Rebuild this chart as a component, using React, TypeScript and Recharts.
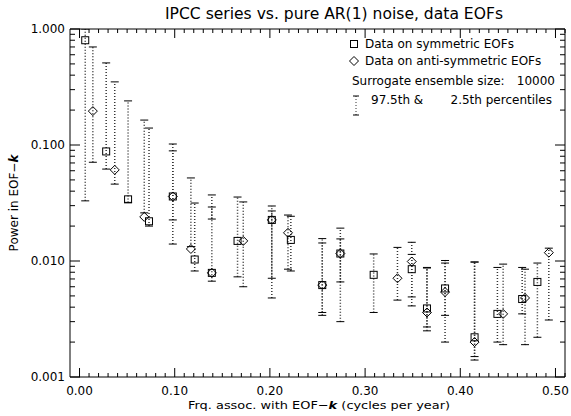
import React from 'react';
import { ScatterChart, Scatter, XAxis, YAxis, ErrorBar, Legend } from 'recharts';

const FONT = '"DejaVu Sans", sans-serif';

// data on symmetric EOFs: frequency, power, 97.5th and 2.5th percentiles
const symFreq = [0.006, 0.028, 0.051, 0.073, 0.098, 0.121, 0.139, 0.166, 0.202, 0.222, 0.255, 0.274, 0.309, 0.349, 0.365, 0.384, 0.415, 0.439, 0.465, 0.481];
const symPower = [0.80, 0.088, 0.034, 0.022, 0.036, 0.0103, 0.0079, 0.0149, 0.0226, 0.0152, 0.0062, 0.0116, 0.0076, 0.0085, 0.0039, 0.0058, 0.0022, 0.0035, 0.0047, 0.0066];
const symHi = [1.0, 0.51, 0.24, 0.14, 0.102, 0.0316, 0.0371, 0.0356, 0.0298, 0.0243, 0.0156, 0.0192, 0.0115, 0.0114, 0.0088, 0.0101, 0.0098, 0.0088, 0.0088, 0.0096];
const symLo = [0.033, 0.062, 0.032, 0.020, 0.0226, 0.0082, 0.0230, 0.0073, 0.0071, 0.0082, 0.0036, 0.0066, 0.0036, 0.0049, 0.0027, 0.0034, 0.0015, 0.0020, 0.0035, 0.0022];

// data on anti-symmetric EOFs
const antiFreq = [0.014, 0.037, 0.068, 0.098, 0.117, 0.139, 0.172, 0.202, 0.219, 0.255, 0.274, 0.334, 0.349, 0.365, 0.384, 0.415, 0.445, 0.468, 0.493];
const antiPower = [0.196, 0.061, 0.024, 0.036, 0.0127, 0.0079, 0.0149, 0.0226, 0.0175, 0.0062, 0.0116, 0.0071, 0.0099, 0.0036, 0.0054, 0.0020, 0.0035, 0.0048, 0.0118];
const antiHi = [0.70, 0.35, 0.164, 0.089, 0.052, 0.0292, 0.0323, 0.0270, 0.0249, 0.0143, 0.0155, 0.0131, 0.0145, 0.0087, 0.0096, 0.0098, 0.0094, 0.0085, 0.0129];
const antiLo = [0.071, 0.046, 0.026, 0.014, 0.0133, 0.0067, 0.0060, 0.0048, 0.0085, 0.0034, 0.0030, 0.0046, 0.0041, 0.0025, 0.0020, 0.0014, 0.0019, 0.0019, 0.0031];

const xMajor = [0, 0.1, 0.2, 0.3, 0.4, 0.5];
const xLabels = ['0.00', '0.10', '0.20', '0.30', '0.40', '0.50'];
const yMajor = [0.001, 0.01, 0.1, 1];
const yLabels = ['0.001', '0.010', '0.100', '1.000'];

const xTicks = Array.from({ length: 52 }, (_, i) => i / 100);
const yTicks = [0.001, 0.01, 0.1].flatMap(d => [1, 2, 3, 4, 5, 6, 7, 8, 9].map(m => +(d * m).toPrecision(3))).concat([1]);

const toRows = (freq: number[], power: number[], hi: number[], lo: number[]) =>
  freq.map((f, i) => ({ f, p: power[i], err: [power[i] - lo[i], hi[i] - power[i]] }));

const symData = toRows(symFreq, symPower, symHi, symLo);
const antiData = toRows(antiFreq, antiPower, antiHi, antiLo);
const capData = [
  ...symFreq.map((f, i) => ({ f, p: symHi[i] })),
  ...symFreq.map((f, i) => ({ f, p: symLo[i] })),
  ...antiFreq.map((f, i) => ({ f, p: antiHi[i] })),
  ...antiFreq.map((f, i) => ({ f, p: antiLo[i] })),
];

const xIndex = (v: number) => xMajor.findIndex(m => Math.abs(m - v) < 1e-6);
const yIndex = (v: number) => yMajor.findIndex(m => Math.abs(m - v) < 1e-9);

function BottomTick({ x, y, payload }: any) {
  const i = xIndex(payload.value);
  return (
    <g>
      <line x1={x} x2={x} y1={y} y2={y - (i >= 0 ? 9 : 4)} stroke="#000" />
      {i >= 0 && (
        <text x={x} y={y + 18} textAnchor="middle" fontSize={12} fontFamily={FONT} fill="#000">{xLabels[i]}</text>
      )}
    </g>
  );
}

function TopTick({ x, y, payload }: any) {
  const i = xIndex(payload.value);
  return <line x1={x} x2={x} y1={y} y2={y + (i >= 0 ? 9 : 4)} stroke="#000" />;
}

function LeftTick({ x, y, payload }: any) {
  const i = yIndex(payload.value);
  return (
    <g>
      <line x1={x} x2={x + (i >= 0 ? 10 : 5)} y1={y} y2={y} stroke="#000" />
      {i >= 0 && (
        <text x={x - 5} y={y + 4} textAnchor="end" fontSize={12} fontFamily={FONT} fill="#000">{yLabels[i]}</text>
      )}
    </g>
  );
}

function RightTick({ x, y, payload }: any) {
  const i = yIndex(payload.value);
  return <line x1={x} x2={x - (i >= 0 ? 10 : 5)} y1={y} y2={y} stroke="#000" />;
}

const Square = ({ cx, cy }: any) => (
  <rect x={cx - 3.5} y={cy - 3.5} width={7} height={7} fill="none" stroke="#000" />
);

const Diamond = ({ cx, cy }: any) => (
  <polygon points={`${cx},${cy - 4.5} ${cx + 4.5},${cy} ${cx},${cy + 4.5} ${cx - 4.5},${cy}`} fill="none" stroke="#000" />
);

const Cap = ({ cx, cy }: any) => (
  <line x1={cx - 4} x2={cx + 4} y1={cy} y2={cy} stroke="#000" />
);

function LegendBox() {
  const t = { fontSize: 12, fontFamily: FONT, fill: '#000' };
  return (
    <svg width={230} height={92} style={{ display: 'block' }}>
      <rect x={10.5} y={10.5} width={7} height={7} fill="none" stroke="#000" />
      <text x={25} y={18} {...t}>Data on symmetric EOFs</text>
      <polygon points="14,26.5 18.5,31 14,35.5 9.5,31" fill="none" stroke="#000" />
      <text x={25} y={35} {...t}>Data on anti-symmetric EOFs</text>
      <text x={12} y={55} {...t}>Surrogate ensemble size:</text>
      <text x={215} y={55} textAnchor="end" {...t}>10000</text>
      <line x1={16} x2={16} y1={66} y2={85} stroke="#333" strokeDasharray="1 2" />
      <line x1={13} x2={19} y1={66} y2={66} stroke="#000" />
      <line x1={13} x2={19} y1={85} y2={85} stroke="#000" />
      <text x={31} y={74} {...t}>97.5th &amp;</text>
      <text x={212} y={74} textAnchor="end" {...t}>2.5th percentiles</text>
    </svg>
  );
}

export default function App() {
  return (
    <div style={{ position: 'absolute', left: 0, top: 0, width: 571, height: 416, background: '#fff' }}>
      <ScatterChart width={571} height={416} margin={{ top: 0, right: 0, bottom: 0, left: 0 }}>
        <XAxis xAxisId="b" orientation="bottom" type="number" dataKey="f" domain={[-0.01, 0.51]} allowDataOverflow
          ticks={xTicks} interval={0} height={39} tickSize={0} tickMargin={0} tickLine={false}
          axisLine={{ stroke: '#000' }} tick={BottomTick} />
        <XAxis xAxisId="t" orientation="top" type="number" dataKey="f" domain={[-0.01, 0.51]} allowDataOverflow
          ticks={xTicks} interval={0} height={29} tickSize={0} tickMargin={0} tickLine={false}
          axisLine={{ stroke: '#000' }} tick={TopTick} />
        <YAxis yAxisId="l" orientation="left" type="number" dataKey="p" scale="log" domain={[0.001, 1]} allowDataOverflow
          ticks={yTicks} interval={0} width={70} tickSize={0} tickMargin={0} tickLine={false}
          axisLine={{ stroke: '#000' }} tick={LeftTick} />
        <YAxis yAxisId="r" orientation="right" type="number" dataKey="p" scale="log" domain={[0.001, 1]} allowDataOverflow
          ticks={yTicks} interval={0} width={6} tickSize={0} tickMargin={0} tickLine={false}
          axisLine={{ stroke: '#000' }} tick={RightTick} />
        <Scatter data={capData} xAxisId="b" yAxisId="l" shape={Cap} isAnimationActive={false} />
        <Scatter data={symData} xAxisId="b" yAxisId="l" shape={Square} isAnimationActive={false}>
          <ErrorBar dataKey="err" direction="y" width={0} stroke="#333" strokeDasharray="1 2" isAnimationActive={false} />
        </Scatter>
        <Scatter data={antiData} xAxisId="b" yAxisId="l" shape={Diamond} isAnimationActive={false}>
          <ErrorBar dataKey="err" direction="y" width={0} stroke="#333" strokeDasharray="1 2" isAnimationActive={false} />
        </Scatter>
        <Legend layout="horizontal" align="center" verticalAlign="middle" content={LegendBox}
          wrapperStyle={{ position: 'absolute', left: 340, top: 30, width: 230, height: 92 }} />
      </ScatterChart>
      <svg width={571} height={416} style={{ position: 'absolute', left: 0, top: 0, pointerEvents: 'none' }}>
        <text x={334} y={19} textAnchor="middle" fontSize={15} fontFamily={FONT} fill="#000"
          textLength={338} lengthAdjust="spacingAndGlyphs">
          IPCC series vs. pure AR(1) noise, data EOFs
        </text>
        <text x={319} y={409} textAnchor="middle" fontSize={11} fontFamily={FONT} fill="#000"
          textLength={262} lengthAdjust="spacingAndGlyphs">
          Frq. assoc. with EOF−<tspan fontWeight="bold" fontStyle="italic">k</tspan> (cycles per year)
        </text>
        <text transform="translate(18,203) rotate(-90)" textAnchor="middle" fontSize={12} fontFamily={FONT} fill="#000">
          Power in EOF−<tspan fontWeight="bold" fontStyle="italic">k</tspan>
        </text>
      </svg>
    </div>
  );
}
